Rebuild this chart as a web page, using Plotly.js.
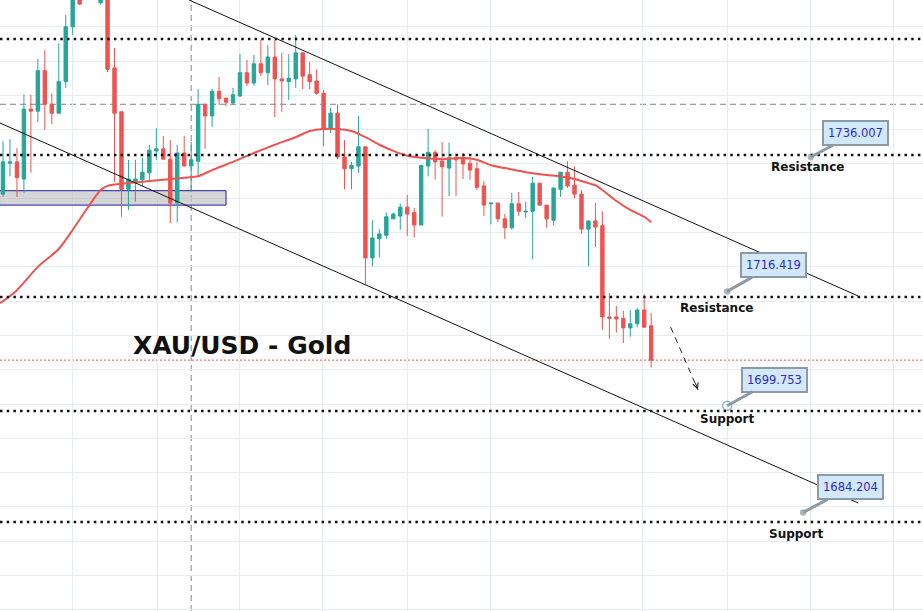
<!DOCTYPE html>
<html>
<head>
<meta charset="utf-8">
<script src="https://cdn.plot.ly/plotly-3.0.1.min.js"></script>
<style>html,body{margin:0;padding:0;background:#fff;}#chart{width:923px;height:611px;}</style>
</head>
<body>
<div id="chart"></div>
<script>
// ---- candle data (XAU/USD) ----
const openP  = [1730.6,1735.1,1735.3,1732.8,1743.0,1742.7,1748.6,1743.7,1742.4,1747.0,
                1755.0,1760.4,1760.0,1762.5,1758.5,1760.4,1749.0,1742.6,1731.3,1732.4,
                1732.7,1733.7,1736.9,1737.2,1735.7,1729.3,1736.6,1734.7,1735.4,1743.7,
                1742.0,1745.6,1744.6,1743.9,1744.9,1748.3,1746.8,1749.6,1748.3,1750.6,
                1747.4,1747.0,1747.4,1751.2,1748.0,1747.1,1745.3,1740.1,1742.4,1736.0,
                1734.3,1734.7,1737.5,1721.3,1724.1,1724.6,1727.0,1727.4,1728.7,1727.9,
                1726.1,1734.7,1736.7,1735.4,1734.4,1735.9,1735.9,1735.1,1734.3,1731.8,
                1729.2,1729.3,1727.0,1725.7,1729.2,1728.0,1728.1,1732.2,1729.0,1726.8,
                1731.3,1733.8,1731.9,1730.6,1725.5,1726.7,1726.0,1712.7,1712.7,1712.5,
                1711.1,1711.7,1713.7,1711.4];
const highP  = [1738.3,1738.6,1737.3,1745.1,1745.1,1750.3,1751.6,1745.3,1752.6,1756.7,
                1763.3,1764.7,1764.0,1764.5,1762.5,1761.1,1751.9,1742.6,1735.6,1735.6,
                1735.9,1737.8,1740.2,1739.1,1738.5,1737.8,1739.1,1738.2,1745.9,1743.7,
                1745.9,1747.7,1744.6,1746.1,1751.0,1750.2,1750.9,1753.1,1752.3,1753.1,
                1751.2,1751.0,1753.8,1751.2,1749.9,1748.8,1745.8,1743.2,1743.7,1738.5,
                1735.3,1742.0,1737.5,1726.8,1725.5,1727.9,1727.9,1729.2,1730.5,1728.6,
                1734.8,1740.1,1737.0,1738.2,1738.1,1736.5,1736.6,1736.0,1735.3,1732.5,
                1729.3,1729.3,1727.7,1730.8,1730.9,1729.5,1733.1,1732.2,1729.0,1731.5,
                1733.8,1735.4,1734.6,1731.2,1726.7,1729.3,1728.1,1716.2,1714.3,1713.6,
                1713.7,1714.0,1716.0,1713.3];
const lowP   = [1730.2,1733.2,1730.2,1730.8,1733.7,1741.1,1740.0,1740.8,1742.4,1746.1,
                1753.8,1758.2,1759.5,1759.6,1758.2,1748.4,1732.4,1727.3,1728.3,1729.5,
                1731.8,1732.4,1735.6,1735.6,1726.4,1726.5,1734.7,1730.9,1733.2,1737.2,
                1740.4,1743.6,1743.4,1743.6,1744.8,1746.4,1746.4,1747.8,1746.5,1741.8,
                1742.6,1744.3,1746.1,1745.9,1745.9,1745.1,1737.6,1739.5,1735.7,1731.3,
                1731.3,1733.7,1717.4,1720.1,1721.4,1724.1,1727.0,1725.4,1724.5,1724.3,
                1726.1,1733.2,1732.7,1727.3,1730.3,1730.3,1732.8,1732.7,1731.2,1727.4,
                1726.2,1726.5,1724.1,1725.4,1727.4,1727.1,1721.1,1728.9,1725.7,1726.0,
                1730.2,1731.5,1730.0,1724.8,1720.1,1722.9,1710.8,1709.5,1710.4,1708.9,
                1709.8,1711.2,1711.2,1705.3];
const closeP = [1735.3,1735.3,1733.0,1743.0,1742.7,1748.6,1743.7,1742.4,1747.0,1755.0,
                1761.8,1758.3,1762.5,1760.4,1761.1,1748.8,1742.4,1731.3,1732.8,1732.8,
                1733.8,1737.0,1737.2,1735.7,1729.3,1736.6,1734.7,1735.6,1743.7,1742.0,
                1745.6,1744.5,1744.0,1745.1,1748.3,1746.8,1749.6,1748.3,1750.6,1747.4,
                1747.1,1747.5,1751.2,1747.8,1747.0,1745.3,1740.1,1742.4,1736.0,1734.3,
                1734.8,1737.5,1721.3,1724.2,1724.8,1727.3,1727.7,1728.7,1727.7,1726.1,
                1734.8,1736.7,1735.3,1734.6,1735.9,1735.6,1735.0,1734.1,1731.6,1729.0,
                1729.3,1727.0,1725.7,1729.2,1728.1,1728.1,1732.2,1729.0,1727.0,1731.5,
                1733.8,1731.8,1730.6,1725.5,1726.7,1725.8,1712.7,1712.5,1712.4,1711.1,
                1711.7,1713.7,1711.2,1706.4];

// moving average (read at selected candles)
const maIdx = [-0.5,0,2,5,8,10,12,14,15,17,20,23,26,28,30,33,36,39,42,44,46,48,50,52,54,56,58,60,63,66,68,70,72,75,78,80,82,84,85,86,88,90,92,93];
const maVal = [1714.7,1715.0,1716.6,1720.0,1722.6,1725.4,1728.4,1731.2,1731.8,1732.1,1732.4,1732.7,1733.0,1733.2,1734.1,1735.3,1736.6,1737.8,1738.9,1739.8,1740.1,1740.1,1739.8,1738.9,1737.8,1736.9,1736.2,1735.9,1735.7,1735.9,1735.6,1734.8,1734.4,1733.8,1733.4,1733.2,1732.8,1732.2,1731.9,1731.2,1729.6,1728.3,1727.3,1726.5];

// horizontal levels (dotted) and other drawings
const levelPrices = [1753.2,1736.3,1715.6,1699.0,1682.8];
const dashedPrice = 1743.7;
const dashedIdx = 27.0;
const zoneIdx = [-0.5,32.0];
const zonePrice = [1729.0,1731.1];
const channelIdx = [26.7,122.7];
const upperChannel = [1758.9,1715.75];
const lowerChannelIdx = [-0.43,122.7];
const lowerChannel = [1740.97,1685.58];
const arrowIdx = [95.8,99.7];
const arrowPrice = [1711.2,1702.1];

// callouts
const calloutText = ['1736.007','1716.419','1699.753','1684.204'];
const calloutPrice = [1736.007,1716.419,1699.753,1684.204];
const calloutIdx = [115.9,103.9,103.9,114.8];
const labelText = ['Resistance','Resistance','Support','Support'];
const labelIdx = [115.4,102.3,104.0,113.9];
const labelPrice = [1734.6,1714.0,1697.8,1681.1];
const timeGrid = [10.04,22.1,34.0,45.9,58.0,69.9,91.8,103.9,115.8,127.7];
const titleText = 'XAU/USD - Gold';
const titleIdx = 34.3;
const titlePrice = 1708.6;

const GREEN = '#26a69a', RED = '#ef5350';
const idx = openP.map((_, i) => i);

const traces = [
  {
    type: 'candlestick', x: idx, open: openP, high: highP, low: lowP, close: closeP,
    increasing: {line: {color: GREEN, width: 1}, fillcolor: GREEN},
    decreasing: {line: {color: RED, width: 1}, fillcolor: RED},
    whiskerwidth: 0, hoverinfo: 'skip', showlegend: false
  },
  {
    type: 'scatter', mode: 'lines', x: maIdx, y: maVal,
    line: {color: RED, width: 2, shape: 'spline', smoothing: 0.6},
    hoverinfo: 'skip', showlegend: false
  },
  {
    type: 'scatter', mode: 'markers', x: calloutIdx, y: calloutPrice,
    marker: {
      symbol: ['circle','circle','circle-open','circle'],
      size: [5,5,9,5],
      color: ['#8c9aa6','#8c9aa6','#5b9bd5','#8c9aa6'],
      line: {width: 1.5, color: ['#8c9aa6','#8c9aa6','#5b9bd5','#8c9aa6']}
    },
    hoverinfo: 'skip', showlegend: false, cliponaxis: false
  }
];

const shapes = [];
shapes.push({type: 'rect', xref: 'x', yref: 'y', x0: zoneIdx[0], x1: zoneIdx[1], y0: zonePrice[0], y1: zonePrice[1],
  fillcolor: 'rgba(190,190,190,0.65)', line: {color: '#1c1ca6', width: 1}, layer: 'between'});
levelPrices.forEach(p => shapes.push({type: 'line', xref: 'paper', yref: 'y', x0: 0, x1: 1, y0: p, y1: p,
  line: {color: '#111', width: 2.5, dash: '2.5px,4.2px'}, layer: 'above'}));
shapes.push({type: 'line', xref: 'paper', yref: 'y', x0: 0, x1: 1, y0: dashedPrice, y1: dashedPrice,
  line: {color: '#80848c', width: 1, dash: '6px,4px'}, layer: 'between'});
shapes.push({type: 'line', xref: 'x', yref: 'paper', x0: dashedIdx, x1: dashedIdx, y0: 0, y1: 1,
  line: {color: '#80848c', width: 1, dash: '6px,4px'}, layer: 'between'});
shapes.push({type: 'line', xref: 'paper', yref: 'y', x0: 0, x1: 1, y0: closeP[closeP.length-1], y1: closeP[closeP.length-1],
  line: {color: RED, width: 1, dash: '2px,2px'}, layer: 'between'});
shapes.push({type: 'line', xref: 'x', yref: 'y', x0: channelIdx[0], x1: channelIdx[1], y0: upperChannel[0], y1: upperChannel[1],
  line: {color: '#111', width: 1}, layer: 'above'});
shapes.push({type: 'line', xref: 'x', yref: 'y', x0: lowerChannelIdx[0], x1: lowerChannelIdx[1], y0: lowerChannel[0], y1: lowerChannel[1],
  line: {color: '#111', width: 1}, layer: 'above'});
shapes.push({type: 'line', xref: 'x', yref: 'y', x0: arrowIdx[0], x1: arrowIdx[1], y0: arrowPrice[0], y1: arrowPrice[1],
  line: {color: '#222', width: 1, dash: '6px,5px'}, layer: 'above'});

const annotations = [];
annotations.push({x: titleIdx, y: titlePrice, xref: 'x', yref: 'y', text: titleText, showarrow: false,
  font: {family: 'DejaVu Sans', size: 25, color: '#111', weight: 'bold'}});
// arrow head of dashed arrow
annotations.push({x: arrowIdx[1], y: arrowPrice[1], xref: 'x', yref: 'y', ax: -3, ay: -8, text: '',
  showarrow: true, arrowhead: 5, arrowsize: 1.1, arrowwidth: 1, arrowcolor: '#222'});
const offs = [[45,-24],[46,-26],[47,-26],[47,-25]];
calloutText.forEach((t, k) => {
  annotations.push({x: calloutIdx[k], y: calloutPrice[k], xref: 'x', yref: 'y', text: t,
    showarrow: true, arrowhead: 0, arrowwidth: 3, arrowcolor: '#8c9aa6', ax: offs[k][0], ay: offs[k][1],
    bgcolor: '#d3e8fb', bordercolor: '#8c9aa6', borderwidth: 2, borderpad: 4,
    font: {family: 'DejaVu Sans', size: 11.5, color: '#2b2bcc'}});
  annotations.push({x: labelIdx[k], y: labelPrice[k], xref: 'x', yref: 'y', text: labelText[k], showarrow: false,
    font: {family: 'DejaVu Sans', size: 12, color: '#111', weight: 'bold'}});
});

const layout = {
  width: 923, height: 611,
  margin: {l: 0, r: 0, t: 0, b: 0, pad: 0},
  paper_bgcolor: '#ffffff', plot_bgcolor: '#ffffff',
  showlegend: false,
  xaxis: {range: [-0.43, 132.0], tickmode: 'array', tickvals: timeGrid, showticklabels: false, ticks: '',
    showgrid: true, gridcolor: '#e6ecf0', gridwidth: 1, zeroline: false, showline: false,
    rangeslider: {visible: false}, fixedrange: true},
  yaxis: {range: [1669.83, 1758.9], tick0: 1670, dtick: 5, showticklabels: false, ticks: '',
    showgrid: true, gridcolor: '#e6ecf0', gridwidth: 1, zeroline: false, showline: false, fixedrange: true},
  shapes: shapes,
  annotations: annotations,
  hovermode: false
};

Plotly.newPlot('chart', traces, layout, {displayModeBar: false, staticPlot: true});
</script>
</body>
</html>
